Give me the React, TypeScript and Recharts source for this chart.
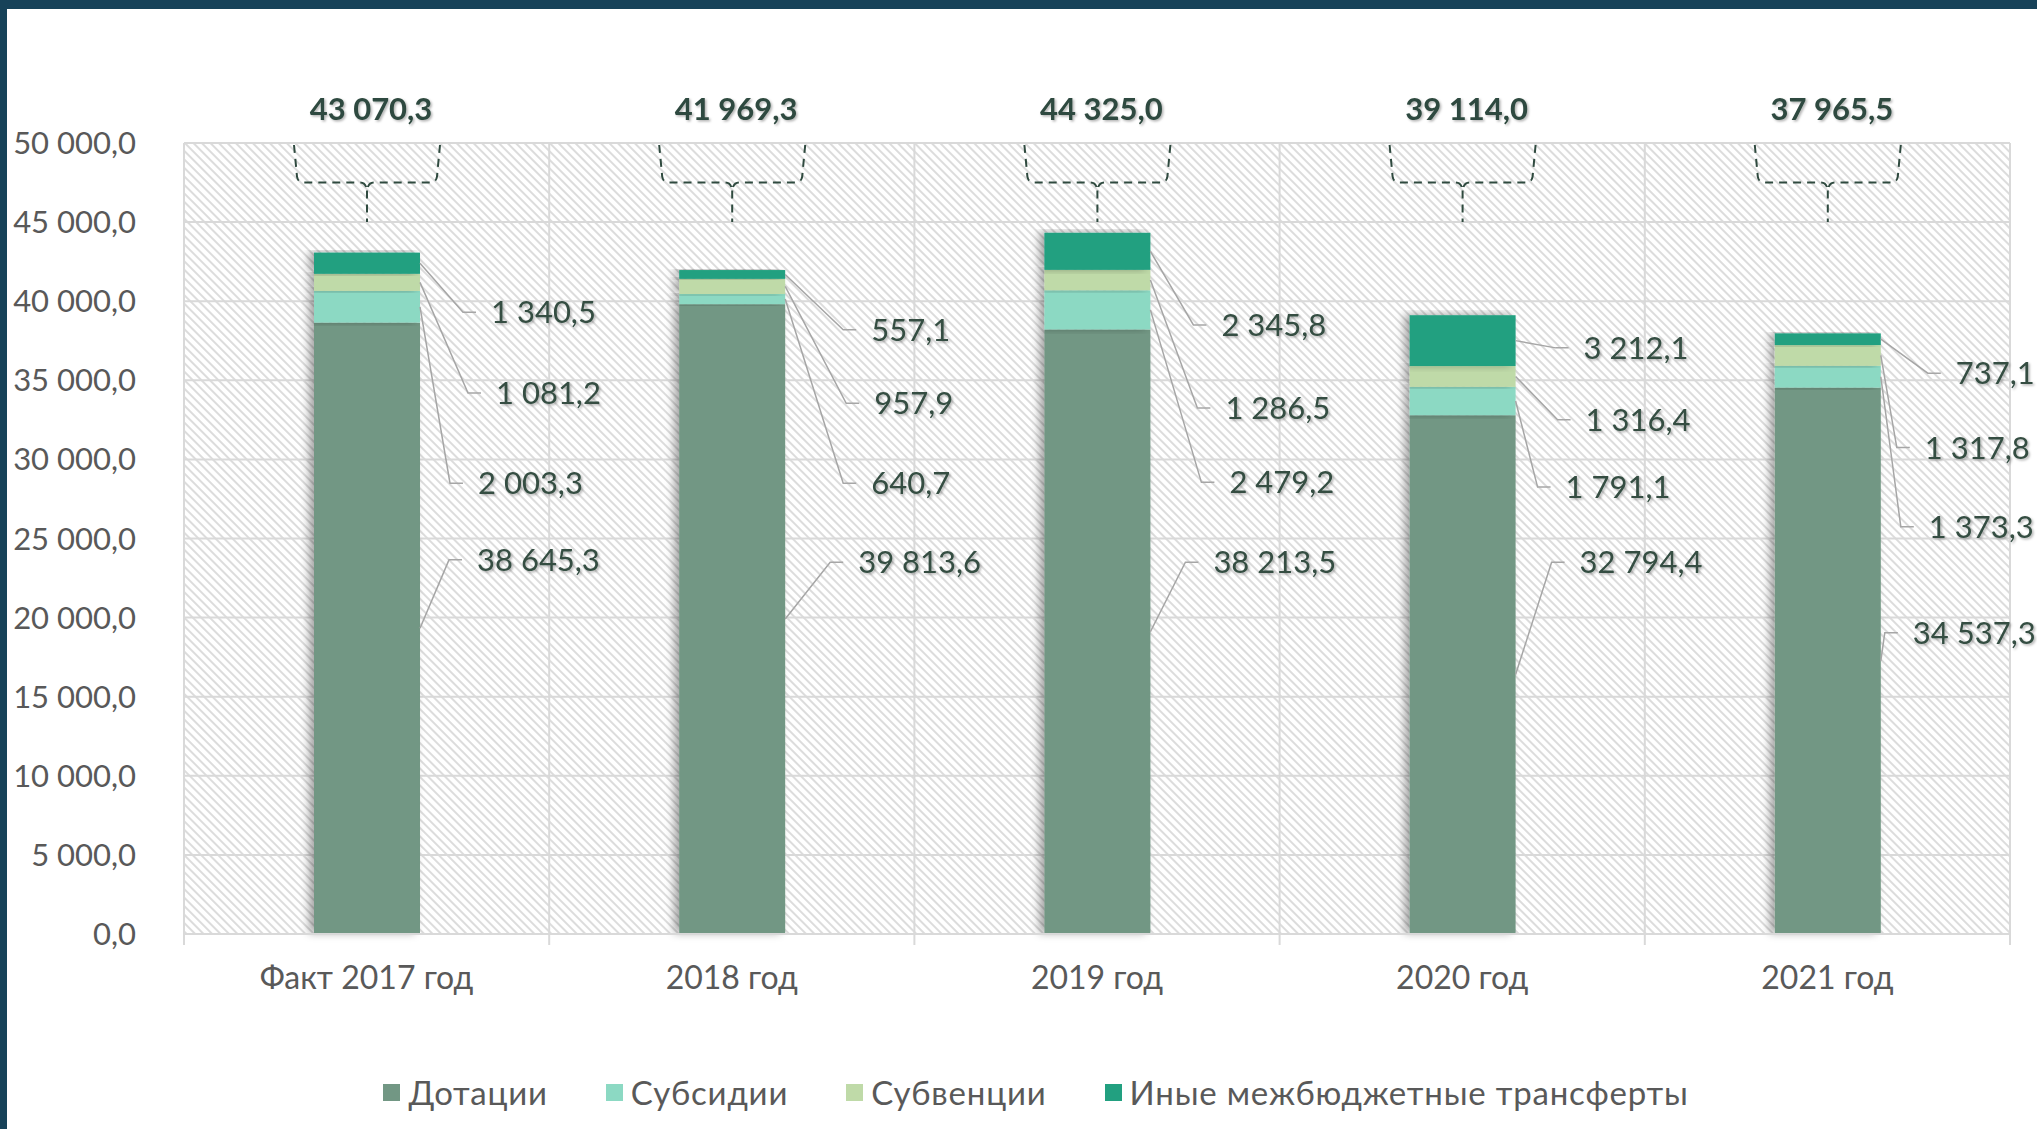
import React from 'react';
import { BarChart, Bar, XAxis, YAxis, CartesianGrid, Legend, LabelList } from 'recharts';

const categories = ['Факт 2017 год', '2018 год', '2019 год', '2020 год', '2021 год'];
const dotacii = [38645.3, 39813.6, 38213.5, 32794.4, 34537.3];
const subsidii = [2003.3, 640.7, 2479.2, 1791.1, 1373.3];
const subvencii = [1081.2, 957.9, 1286.5, 1316.4, 1317.8];
const inye = [1340.5, 557.1, 2345.8, 3212.1, 737.1];
const yTicks = [0, 5000, 10000, 15000, 20000, 25000, 30000, 35000, 40000, 45000, 50000];

const seriesKeys = ['dotacii', 'subsidii', 'subvencii', 'inye'];
const seriesNames = ['Дотации', 'Субсидии', 'Субвенции', 'Иные межбюджетные трансферты'];
const seriesColors = ['#729784', '#8cd9c3', '#bfdaa8', '#22a080'];
const seriesValues = [dotacii, subsidii, subvencii, inye];

// where the callout labels sit: level in axis units, text offset from bar edge in px
const calloutLevel = [
    [23650, 23500, 23500, 23500, 19050],
    [28500, 28500, 28550, 28250, 25750],
    [34200, 33550, 33250, 32500, 30750],
    [39300, 38200, 38500, 37050, 35450],
];
const calloutDx = [
    [57, 73, 63, 64, 32],
    [58, 86, 79, 50, 48],
    [76, 89, 75, 70, 44],
    [71, 86, 71, 68, 75],
];

const totals = categories.map((_, i) => seriesValues.reduce((s, arr) => s + arr[i], 0));

const data = categories.map((name, i) => ({
    name,
    dotacii: dotacii[i],
    subsidii: subsidii[i],
    subvencii: subvencii[i],
    inye: inye[i],
}));

const FONT = 'Lato, "Open Sans", sans-serif';
const CHART_W = 2030;
const CHART_H = 1120;
const XAXIS_H = 30;
const MARGIN = { top: 134, right: 27, bottom: 195 - XAXIS_H, left: 0 };
const YAXIS_W = 177;
const BAND = (CHART_W - MARGIN.left - YAXIS_W - MARGIN.right) / categories.length;
const verticalPoints = categories
    .map((_, i) => MARGIN.left + YAXIS_W + i * BAND)
    .concat([CHART_W - MARGIN.right]);

const fmt = (v: number) => {
    const [int, dec] = v.toFixed(1).split('.');
    return int.replace(/\B(?=(\d{3})+(?!\d))/g, ' ') + ',' + dec;
};

// pixel geometry of one stacked segment, derived from the bar the library drew
const segmentGeo = (k: number, props: any) => {
    const i = props.index;
    const vb = props.viewBox || props;
    if (i == null || !vb || vb.width == null) return null;
    const top = Math.min(vb.y, vb.y + vb.height);
    const h = Math.abs(vb.height);
    const value = seriesValues[k][i];
    const ratio = h / value;
    let below = 0;
    for (let j = 0; j < k; j++) below += seriesValues[j][i];
    const zeroY = top + h + below * ratio;
    return { i, vb, top, h, value, yOf: (v: number) => zeroY - v * ratio };
};

const makeCallout = (k: number) => (props: any) => {
    const g = segmentGeo(k, props);
    if (!g) return null;
    const right = g.vb.x + g.vb.width;
    const sy = g.top + g.h / 2;
    const ly = g.yOf(calloutLevel[k][g.i]);
    const tx = right + calloutDx[k][g.i];
    return (
        <g>
            <polyline
                points={`${right},${sy} ${tx - 28},${ly} ${tx - 15},${ly}`}
                fill="none"
                stroke="#a6a6a6"
                strokeWidth={1.5}
            />
            <text
                x={tx}
                y={ly}
                dy="0.36em"
                fill="#344e42"
                fontSize={31}
                fontFamily={FONT}
                filter="url(#tshadow)"
            >
                {fmt(g.value)}
            </text>
        </g>
    );
};

const TotalLabel = (props: any) => {
    const g = segmentGeo(3, props);
    if (!g) return null;
    const cx = g.vb.x + g.vb.width / 2;
    const y50 = g.yOf(50000);
    const hy = g.yOf(47500);
    const y45 = g.yOf(45000);
    const w = 73;
    const bracket =
        `M${cx - w},${y50 + 2} L${cx - w + 3},${hy - 6} Q${cx - w + 4},${hy} ${cx - w + 10},${hy} L${cx - 7},${hy} Q${cx - 1},${hy} ${cx},${hy + 8} ` +
        `M${cx + w},${y50 + 2} L${cx + w - 3},${hy - 6} Q${cx + w - 4},${hy} ${cx + w - 10},${hy} L${cx + 7},${hy} Q${cx + 1},${hy} ${cx},${hy + 8} ` +
        `M${cx},${hy + 8} L${cx},${y45}`;
    return (
        <g>
            <path d={bracket} fill="none" stroke="#2f4a3f" strokeWidth={2} strokeDasharray="8 6" />
            <text
                x={cx + 4}
                y={y50 - 34}
                dy="0.36em"
                textAnchor="middle"
                fill="#2f4a3f"
                fontSize={31}
                fontWeight={700}
                fontFamily={FONT}
                filter="url(#tshadow)"
            >
                {fmt(totals[g.i])}
            </text>
        </g>
    );
};

const CategoryTick = (props: any) => {
    const { x, y, payload, index } = props;
    return (
        <g>
            <line x1={x - BAND / 2} x2={x - BAND / 2} y1={y} y2={y + 11} stroke="#d9d9d9" strokeWidth={2} />
            {index === categories.length - 1 && (
                <line x1={x + BAND / 2} x2={x + BAND / 2} y1={y} y2={y + 11} stroke="#d9d9d9" strokeWidth={2} />
            )}
            <text x={x} y={y + 43} dy="0.36em" textAnchor="middle" fill="#595959" fontSize={32} fontFamily={FONT}>
                {payload.value}
            </text>
        </g>
    );
};

const BarShape = (props: any) => {
    const { x, y, width, height, fill } = props;
    if (!width || !height) return null;
    return <rect x={x} y={y} width={width} height={height} fill={fill} filter="url(#barShadow)" />;
};

const LegendContent = () => (
    <div
        style={{
            display: 'flex',
            justifyContent: 'center',
            alignItems: 'center',
            gap: 58,
            paddingLeft: 28,
            fontFamily: FONT,
            fontSize: 33,
            letterSpacing: 0.8,
            color: '#595959',
        }}
    >
        {seriesNames.map((n, k) => (
            <div key={n} style={{ display: 'flex', alignItems: 'center' }}>
                <span
                    style={{
                        display: 'inline-block',
                        width: 17,
                        height: 17,
                        background: seriesColors[k],
                        marginRight: 8,
                    }}
                />
                <span>{n}</span>
            </div>
        ))}
    </div>
);

const App: React.FC = () => {
    return (
        <div
            style={{
                position: 'fixed',
                left: 0,
                top: 0,
                width: 2037,
                height: 1129,
                background: '#174259',
            }}
        >
            <div
                style={{
                    position: 'absolute',
                    left: 7,
                    top: 9,
                    width: CHART_W,
                    height: CHART_H,
                    background: '#ffffff',
                }}
            >
                <BarChart width={CHART_W} height={CHART_H} data={data} margin={MARGIN}>
                    <defs>
                        <pattern
                            id="hatch"
                            width="6"
                            height="6"
                            patternUnits="userSpaceOnUse"
                            patternTransform="rotate(-45)"
                        >
                            <rect width="6" height="6" fill="#ffffff" />
                            <line x1="1" y1="0" x2="1" y2="6" stroke="#d4d4d4" strokeWidth={1.6} />
                        </pattern>
                        <filter id="barShadow" x="-30%" y="-10%" width="160%" height="120%">
                            <feDropShadow dx={-5} dy={-1} stdDeviation={4} floodColor="#000" floodOpacity={0.35} />
                        </filter>
                        <filter id="tshadow" x="-10%" y="-30%" width="120%" height="160%">
                            <feDropShadow dx={1.5} dy={1.5} stdDeviation={1} floodColor="#000" floodOpacity={0.3} />
                        </filter>
                    </defs>
                    <CartesianGrid
                        fill="url(#hatch)"
                        fillOpacity={1}
                        stroke="#d9d9d9"
                        strokeWidth={2}
                        verticalPoints={verticalPoints}
                    />
                    <XAxis
                        dataKey="name"
                        height={XAXIS_H}
                        axisLine={{ stroke: '#d9d9d9', strokeWidth: 2 }}
                        tickLine={false}
                        tickSize={0}
                        tickMargin={0}
                        interval={0}
                        tick={<CategoryTick />}
                    />
                    <YAxis
                        width={YAXIS_W}
                        domain={[0, 50000]}
                        ticks={yTicks}
                        interval={0}
                        axisLine={false}
                        tickLine={false}
                        tickSize={0}
                        tickMargin={48}
                        tickFormatter={fmt}
                        tick={{ fill: '#595959', fontSize: 31, fontFamily: FONT }}
                    />
                    <Legend
                        verticalAlign="middle"
                        align="center"
                        content={<LegendContent />}
                        wrapperStyle={{ top: 1063, left: 0, width: CHART_W }}
                    />
                    {seriesKeys.map((key, k) => (
                        <Bar
                            key={key}
                            dataKey={key}
                            name={seriesNames[k]}
                            stackId="a"
                            fill={seriesColors[k]}
                            barSize={106}
                            shape={<BarShape />}
                            isAnimationActive={false}
                        >
                            <LabelList dataKey={key} content={makeCallout(k)} />
                            {k === 3 && <LabelList dataKey={key} content={TotalLabel} />}
                        </Bar>
                    ))}
                </BarChart>
            </div>
        </div>
    );
};

export default App;
